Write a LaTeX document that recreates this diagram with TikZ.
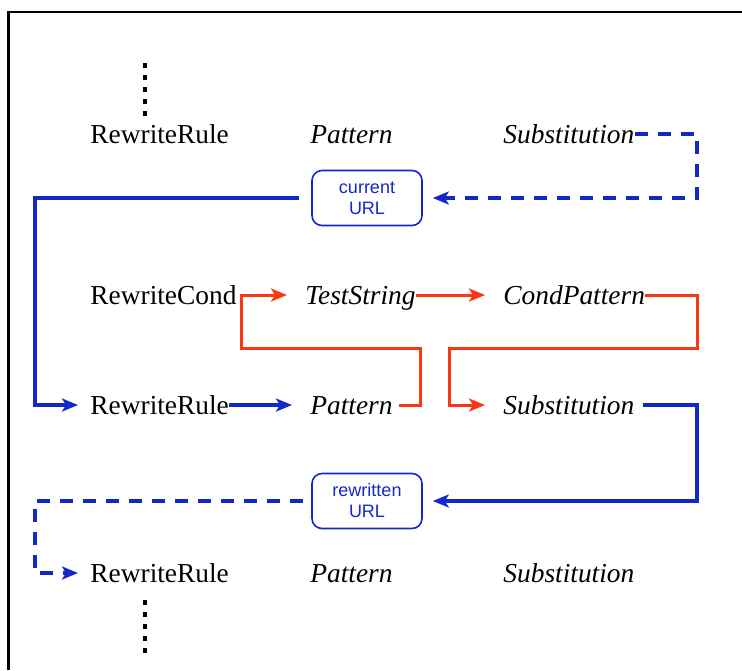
\documentclass[tikz,border=0pt]{standalone}
\usepackage{fontspec}
\setmainfont{Liberation Serif}
\setsansfont{Liberation Sans}
\usetikzlibrary{arrows.meta}
\definecolor{urlclr}{RGB}{20,40,200}
\definecolor{condclr}{RGB}{250,55,20}
\tikzset{
  kw/.style={anchor=west,inner sep=0pt,text height=9pt,text depth=0pt,
             font=\fontsize{13.7}{16}\selectfont},
  arg/.style={kw,font=\fontsize{13.7}{16}\selectfont\itshape},
  urlbox/.style={rectangle,draw=urlclr,line width=0.8pt,rounded corners=5pt,
                 minimum width=55pt,minimum height=27.5pt,align=center,
                 text=urlclr,font=\sffamily\fontsize{9}{10.5}\selectfont},
  flow/.style={color=urlclr,line width=1.6pt,
               -{Stealth[length=8pt,width=6.5pt,inset=2pt]},shorten >=9pt},
  flowdash/.style={flow,dash pattern=on 6.5pt off 5pt},
  cond/.style={flow,color=condclr,line width=1.5pt},
  dots/.style={line width=1.6pt,dash pattern=on 2.5pt off 3.5pt},
}
\begin{document}
\begin{tikzpicture}[x=0.5pt,y=-0.5pt]
\useasboundingbox (0,0) rectangle (742,670);
\draw[line width=1.4pt] (742,12) -- (8.5,12) -- (8.5,670);

\node[kw]  (rr1) at (90,134)  {RewriteRule};
\node[arg] (pat1) at (310,134) {Pattern};
\node[arg] (sub1) at (503,134) {Substitution};
\node[urlbox] (cur) at (367,198) {current\\URL};
\node[kw]  (rc) at (90,295)  {RewriteCond};
\node[arg] (ts) at (305,295) {TestString};
\node[arg] (cp) at (503,295) {CondPattern};
\node[kw]  (rr2) at (90,405)  {RewriteRule};
\node[arg] (pat2) at (310,405) {Pattern};
\node[arg] (sub2) at (503,405) {Substitution};
\node[urlbox] (rew) at (367,501) {rewritten\\URL};
\node[kw]  (rr3) at (90,573)  {RewriteRule};
\node[arg] (pat3) at (310,573) {Pattern};
\node[arg] (sub3) at (503,573) {Substitution};

\coordinate (dtop) at (145,63);
\coordinate (dbot) at (145,600);
\draw[dots] (dtop) -- ++(0,53);
\draw[dots] (dbot) -- ++(0,54);

\draw[flowdash,shorten >=5pt] (sub1.east) -| (697,198) -- (cur.east);
\draw[flow,shorten <=6pt,shorten >=6pt] (cur.west) -| (35,405) -- (rr2.west);
\draw[flow] (rr2.east) -- (pat2.west);
\draw[cond,shorten <=3pt] (pat2.east) -| (420,348) -| (241,295) -- (ts.west);
\draw[cond] (ts.east) -- (cp.west);
\draw[cond] (cp.east) -| (697,348) -| (449,405) -- (sub2.west);
\draw[flow,shorten <=4pt,shorten >=5pt] (sub2.east) -| (697,501) -- (rew.east);
\draw[flowdash,shorten <=4pt,shorten >=6pt] (rew.west) -| (35,573) -- (rr3.west);
\end{tikzpicture}
\end{document}
